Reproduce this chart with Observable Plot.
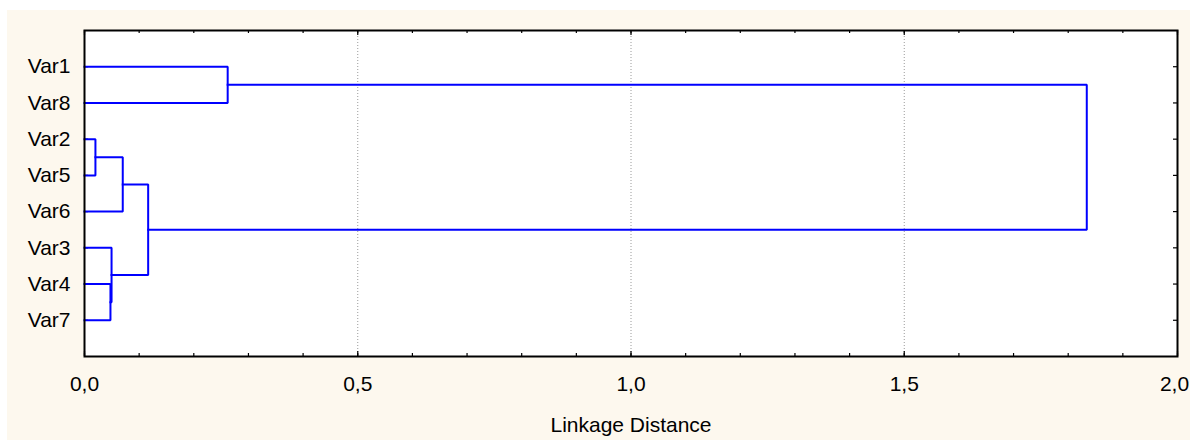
<!DOCTYPE html>
<html>
<head>
<meta charset="utf-8">
<script src="https://cdn.jsdelivr.net/npm/d3@7"></script>
<script src="https://cdn.jsdelivr.net/npm/@observablehq/plot@0.6"></script>
<style>
  html, body { margin: 0; padding: 0; background: #ffffff; }
  #wrap { position: relative; width: 1190px; height: 440px; overflow: hidden; }
  #cream { position: absolute; left: 7px; top: 10px; right: 0; bottom: 0; background: #fdf8ee; }
  #chart { position: absolute; left: 0; top: 0; }
</style>
</head>
<body>
<div id="wrap"><div id="cream"></div><div id="chart"></div></div>
<script>
// Leaf order (top to bottom)
const leaves = ["Var1", "Var8", "Var2", "Var5", "Var6", "Var3", "Var4", "Var7"];
// Merge steps: mergeA[i] joined with mergeB[i] at linkage distance mergeDist[i]; cluster i is "C" + (i+1)
const mergeA = ["Var2", "Var4", "Var3", "C1", "C4", "Var1", "C6"];
const mergeB = ["Var5", "Var7", "C2", "Var6", "C3", "Var8", "C5"];
const mergeDist = [0.020, 0.0475, 0.0495, 0.070, 0.1165, 0.262, 1.834];
// Axis ticks
const xTicks = [0, 0.5, 1.0, 1.5, 2.0];
const xMinorTicks = [0, 0.1, 0.2, 0.3, 0.4, 0.5, 0.6, 0.7, 0.8, 0.9, 1.0, 1.1, 1.2, 1.3, 1.4, 1.5, 1.6, 1.7, 1.8, 1.9, 2.0];
const gridTicks = [0.5, 1.0, 1.5];
const xLabel = "Linkage Distance";

// Build node positions and dendrogram polylines
const nodes = new Map();
leaves.forEach((name, i) => nodes.set(name, {x: 0, y: i + 1}));
const pts = [];
mergeA.forEach((a, i) => {
  const A = nodes.get(a), B = nodes.get(mergeB[i]), d = mergeDist[i];
  const id = "C" + (i + 1);
  pts.push({id, x: A.x, y: A.y}, {id, x: d, y: A.y}, {id, x: d, y: B.y}, {id, x: B.x, y: B.y});
  nodes.set(id, {x: d, y: (A.y + B.y) / 2});
});
const leafIdx = leaves.map((_, i) => i + 1);

const W = 1190, H = 440, mT = 30, mR = 13, mB = 84, mL = 84;
const pW = W - mL - mR, pH = H - mT - mB;
const fmt = d => d.toFixed(1).replace(".", ",");

const chart = Plot.plot({
  width: W, height: H,
  marginTop: mT, marginRight: mR, marginBottom: mB, marginLeft: mL,
  style: {background: "transparent", fontFamily: "'Liberation Sans', Arial, sans-serif", fontSize: "21px", color: "#000"},
  x: {domain: [0, 2]},
  y: {domain: [0, leaves.length + 1], reverse: true},
  marks: [
    Plot.frame({fill: "white", stroke: null}),
    Plot.ruleX(gridTicks, {stroke: "#9a9a9a", strokeDasharray: "1,2", strokeWidth: 1}),
    // inward ticks bottom & top
    Plot.ruleX(xMinorTicks, {insetTop: pH - 3, stroke: "black", strokeWidth: 1.2}),
    Plot.ruleX(xMinorTicks, {insetBottom: pH - 3, stroke: "black", strokeWidth: 1.2}),
    Plot.ruleX(xTicks, {insetTop: pH - 5, stroke: "black", strokeWidth: 1.2}),
    Plot.ruleX(xTicks, {insetBottom: pH - 5, stroke: "black", strokeWidth: 1.2}),
    // inward ticks right & left
    Plot.ruleY(leafIdx, {insetLeft: pW - 4, stroke: "black", strokeWidth: 1.2}),
    Plot.ruleY(leafIdx, {insetRight: pW - 4, stroke: "black", strokeWidth: 1.2}),
    Plot.line(pts, {x: "x", y: "y", z: "id", stroke: "#0000ff", strokeWidth: 2, strokeLinejoin: "miter", strokeLinecap: "square"}),
    Plot.frame({stroke: "black", strokeWidth: 2}),
    Plot.axisX(xTicks.slice(0, -1), {tickSize: 0, tickPadding: 20, tickFormat: fmt, label: null, fill: "black"}),
    Plot.axisX(xTicks.slice(-1), {tickSize: 0, tickPadding: 20, tickFormat: fmt, label: null, fill: "black", dx: -3}),
    Plot.axisY(leafIdx, {tickSize: 0, tickPadding: 14, tickFormat: i => leaves[i - 1], label: null, fill: "black"}),
    Plot.text([xLabel], {frameAnchor: "bottom", dy: 69, lineAnchor: "middle", fill: "black"})
  ]
});
document.getElementById("chart").appendChild(chart);
</script>
</body>
</html>
